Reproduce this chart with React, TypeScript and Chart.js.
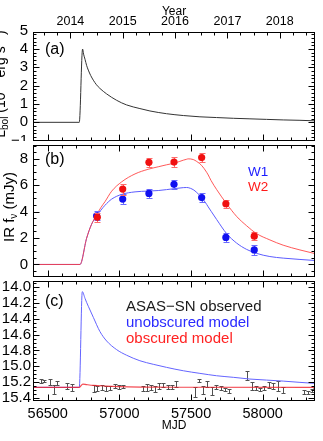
import React, { useEffect, useRef } from "react";
import { Chart, registerables } from "chart.js";

Chart.register(...registerables);

const FAMILY = '"Liberation Sans", Arial, Helvetica, sans-serif';

// ---------- shared axis ----------
const X_MIN = 56397;
const X_MAX = 58365;
const mjdTicks = [56500, 57000, 57500, 58000];
const yearTicks = [2014, 2015, 2016, 2017, 2018];
const yearMJD = [56658, 57023, 57388, 57754, 58119];

// ---------- panel (a): bolometric luminosity ----------
const aTicks = [-1, 0, 1, 2, 3, 4, 5];
const aMJD = [56397, 56720, 56743, 56750, 56760, 56771, 56783, 56800, 56818, 56840, 56864, 56911, 56981, 57050, 57143, 57213, 57329, 57446, 57562, 57678, 57795, 57911, 58027, 58143, 58260, 58365];
const aLbol = [0, 0, 4.0, 3.72, 3.44, 3.11, 2.85, 2.55, 2.3, 2.05, 1.85, 1.55, 1.2, 0.95, 0.75, 0.62, 0.47, 0.37, 0.3, 0.26, 0.22, 0.19, 0.16, 0.13, 0.11, 0.08];

// ---------- panel (b): IR flux ----------
const bTicks = [0, 2, 4, 6, 8];
const bMJD = [56397, 56725, 56771, 56806, 56841, 56870, 56899, 56946, 57016, 57109, 57200, 57271, 57329, 57388, 57446, 57469, 57480, 57515, 57540, 57574, 57609, 57620, 57640, 57679, 57748, 57818, 57888, 57957, 58050, 58143, 58260, 58365];
const w1Model = [0, 0, 1.98, 3.05, 3.69, 4.1, 4.48, 4.95, 5.31, 5.5, 5.56, 5.6, 5.67, 5.75, 5.82, 5.83, 5.82, 5.67, 5.45, 5.07, 4.55, 4.36, 4.03, 3.4, 2.34, 1.62, 1.14, 0.84, 0.6, 0.48, 0.38, 0.3];
const w2Model = [0, 0, 1.98, 3.05, 3.75, 4.3, 4.75, 5.55, 6.26, 6.86, 7.21, 7.4, 7.55, 7.69, 7.9, 7.97, 8.0, 7.95, 7.8, 7.5, 6.98, 6.78, 6.35, 5.67, 4.6, 3.64, 2.93, 2.34, 1.86, 1.46, 1.1, 0.82];
const w1MJD = [56841, 57023, 57206, 57381, 57574, 57743, 57941];
const w1Flux = [3.69, 4.95, 5.38, 6.07, 5.07, 2.05, 1.1];
const w1Err = [0.35, 0.4, 0.35, 0.35, 0.35, 0.35, 0.35];
const w2MJD = [56846, 57023, 57206, 57381, 57574, 57743, 57941];
const w2Flux = [3.57, 5.71, 7.74, 7.76, 8.1, 4.6, 2.14];
const w2Err = [0.35, 0.42, 0.35, 0.35, 0.35, 0.3, 0.3];

// ---------- panel (c): optical magnitudes ----------
const cTicks = [14.0, 14.2, 14.4, 14.6, 14.8, 15.0, 15.2, 15.4];
const asasMJD = [56450, 56474, 56516, 56546, 56567, 56632, 56667, 56825, 56846, 56881, 56906, 56934, 56969, 56999, 57027, 57162, 57190, 57218, 57248, 57278, 57306, 57337, 57364, 57395, 57527, 57553, 57585, 57613, 57646, 57674, 57706, 57739, 57767, 57892, 57922, 57953, 57981, 58011, 58046, 58074, 58104, 58139, 58288, 58318, 58341, 58364];
const asasMag = [15.183, 15.183, 15.2, 15.293, 15.209, 15.251, 15.268, 15.281, 15.281, 15.268, 15.281, 15.281, 15.251, 15.268, 15.259, 15.281, 15.268, 15.268, 15.29, 15.251, 15.239, 15.268, 15.268, 15.226, 15.323, 15.183, 15.3, 15.226, 15.309, 15.259, 15.281, 15.294, 15.309, 15.119, 15.251, 15.281, 15.294, 15.281, 15.239, 15.251, 15.251, 15.3, 15.323, 15.332, 15.309, 15.29];
const asasErr = [0.025, 0.01, 0.038, 0.059, 0.025, 0.034, 0.042, 0.042, 0.034, 0.03, 0.034, 0.025, 0.025, 0.025, 0.017, 0.034, 0.042, 0.034, 0.042, 0.034, 0.025, 0.025, 0.025, 0.034, 0.063, 0.017, 0.05, 0.042, 0.05, 0.025, 0.025, 0.025, 0.025, 0.059, 0.05, 0.025, 0.025, 0.025, 0.034, 0.042, 0.059, 0.042, 0.025, 0.017, 0.017, 0.017];
const unobsMJD = [56397, 56720, 56741, 56760, 56771, 56783, 56818, 56864, 56911, 56981, 57050, 57143, 57236, 57329, 57446, 57562, 57678, 57795, 57911, 58027, 58143, 58260, 58365];
const unobsMag = [15.267, 15.267, 14.055, 14.14, 14.19, 14.24, 14.38, 14.56, 14.68, 14.79, 14.86, 14.93, 14.975, 15.014, 15.057, 15.09, 15.12, 15.14, 15.162, 15.175, 15.188, 15.204, 15.217];
const obsMJD = [56397, 56720, 56745, 56770, 56818, 56900, 57000, 57150, 57400, 58365];
const obsMag = [15.267, 15.267, 15.226, 15.232, 15.242, 15.251, 15.258, 15.263, 15.266, 15.267];

type TextItem = { text: string; x: number; y: number; color: string; size: number };
type Seg = { t: string; size: number; dy: number };
type RichItem = { segs: Seg[]; x: number; y: number; color: string };

function pts(xs: number[], ys: number[]) {
  return xs.map((x, i) => ({ x, y: ys[i] }));
}

function drawRich(ctx: CanvasRenderingContext2D, item: RichItem) {
  ctx.save();
  ctx.translate(item.x, item.y);
  ctx.rotate(-Math.PI / 2);
  let total = 0;
  for (const s of item.segs) {
    ctx.font = `${s.size}px ${FAMILY}`;
    total += ctx.measureText(s.t).width;
  }
  let cx = -total / 2;
  ctx.fillStyle = item.color;
  ctx.textBaseline = "alphabetic";
  ctx.textAlign = "left";
  for (const s of item.segs) {
    ctx.font = `${s.size}px ${FAMILY}`;
    ctx.fillText(s.t, cx, s.dy);
    cx += ctx.measureText(s.t).width;
  }
  ctx.restore();
}

function decorPlugin(cfg: {
  yMajor: number[];
  yMinor: number;
  yFrom: number;
  yTo: number;
  yearTop: boolean;
  texts: TextItem[];
  rich: RichItem[];
}) {
  return {
    id: "decor",
    beforeDatasetDraw(chart: any, args: any) {
      const ds: any = chart.data.datasets[args.index];
      if (!ds.errorBars) return;
      const xs = chart.scales.x;
      const ys = chart.scales.y;
      const ctx: CanvasRenderingContext2D = chart.ctx;
      const ca = chart.chartArea;
      ctx.save();
      ctx.beginPath();
      ctx.rect(ca.left, ca.top, ca.right - ca.left, ca.bottom - ca.top);
      ctx.clip();
      ctx.strokeStyle = ds.errColor;
      ctx.lineWidth = 1;
      const w = ds.capWidth / 2;
      ds.data.forEach((p: any, i: number) => {
        const e = ds.errorBars[i];
        const px = Math.round(xs.getPixelForValue(p.x)) + 0.5;
        const y1 = Math.round(ys.getPixelForValue(p.y - e)) + 0.5;
        const y2 = Math.round(ys.getPixelForValue(p.y + e)) + 0.5;
        ctx.beginPath();
        ctx.moveTo(px, y1);
        ctx.lineTo(px, y2);
        ctx.moveTo(px - w, y1);
        ctx.lineTo(px + w, y1);
        ctx.moveTo(px - w, y2);
        ctx.lineTo(px + w, y2);
        ctx.stroke();
      });
      ctx.restore();
    },
    afterDraw(chart: any) {
      const ctx: CanvasRenderingContext2D = chart.ctx;
      const ca = chart.chartArea;
      const xs = chart.scales.x;
      const ys = chart.scales.y;
      const L = Math.round(ca.left) + 0.5;
      const R = Math.round(ca.right) - 0.5;
      const T = Math.round(ca.top) + 0.5;
      const B = Math.round(ca.bottom) - 0.5;
      ctx.save();
      ctx.strokeStyle = "#000";
      ctx.lineWidth = 1;
      ctx.strokeRect(L, T, R - L, B - T);
      ctx.beginPath();
      const vt = (v: number, len: number, atTop: boolean) => {
        const px = Math.round(xs.getPixelForValue(v)) + 0.5;
        if (px <= L || px >= R) return;
        if (atTop) {
          ctx.moveTo(px, T);
          ctx.lineTo(px, T + len);
        } else {
          ctx.moveTo(px, B);
          ctx.lineTo(px, B - len);
        }
      };
      for (let v = 56400; v <= X_MAX; v += 100) {
        const major = mjdTicks.includes(v);
        vt(v, major ? 6 : 3, false);
        if (!cfg.yearTop) vt(v, major ? 6 : 3, true);
      }
      if (cfg.yearTop) {
        const yr = 365.25;
        for (let k = -1; k < yearMJD.length; k++) {
          const base = yearMJD[0] + k * yr;
          if (k >= 0) vt(yearMJD[k], 6, true);
          for (let q = 1; q < 4; q++) vt(base + (q * yr) / 4, 3, true);
        }
      }
      const ht = (v: number, len: number) => {
        const py = Math.round(ys.getPixelForValue(v)) + 0.5;
        if (py <= T || py >= B) return;
        ctx.moveTo(L, py);
        ctx.lineTo(L + len, py);
        ctx.moveTo(R, py);
        ctx.lineTo(R - len, py);
      };
      const n = Math.round((cfg.yTo - cfg.yFrom) / cfg.yMinor);
      for (let i = 0; i <= n; i++) ht(cfg.yFrom + i * cfg.yMinor, 3);
      cfg.yMajor.forEach((v) => ht(v, 6));
      ctx.stroke();
      ctx.textBaseline = "middle";
      ctx.textAlign = "left";
      for (const t of cfg.texts) {
        ctx.font = `${t.size}px ${FAMILY}`;
        ctx.fillStyle = t.color;
        ctx.fillText(t.text, t.x, t.y);
      }
      for (const r of cfg.rich) drawRich(ctx, r);
      ctx.restore();
    },
  };
}

function hiddenX() {
  return { type: "linear", display: false, min: X_MIN, max: X_MAX };
}

function yScale(min: number, max: number, ticks: number[], fmt: (v: number) => string, padding: number, reverse = false) {
  return {
    type: "linear",
    position: "left",
    min,
    max,
    reverse,
    afterBuildTicks: (s: any) => {
      s.ticks = ticks.map((v) => ({ value: v }));
    },
    afterFit: (s: any) => {
      s.width = 33;
      s.paddingTop = 0;
      s.paddingBottom = 0;
    },
    grid: { display: false, drawTicks: false, tickLength: 0 },
    border: { display: false },
    ticks: {
      autoSkip: false,
      padding,
      color: "#000",
      font: { size: 15, family: FAMILY },
      callback: (v: any) => fmt(Number(v)),
    },
  };
}

const baseOptions = {
  responsive: false,
  animation: false,
  events: [],
  layout: { padding: { left: 0, right: 8, top: 0, bottom: 0 } },
  plugins: { legend: { display: false }, tooltip: { enabled: false } },
};

const minusFmt = (v: number) => (v < 0 ? "\u2212" + Math.abs(v) : String(v));

function lineDs(xs: number[], ys: number[], color: string, order: number, width = 1) {
  return {
    data: pts(xs, ys),
    showLine: true,
    borderColor: color,
    borderWidth: width,
    pointRadius: 0,
    tension: 0,
    cubicInterpolationMode: "monotone",
    xAxisID: "x",
    yAxisID: "y",
    order,
  };
}

function configA(): any {
  return {
    type: "scatter",
    data: {
      datasets: [lineDs(aMJD, aLbol, "#333333", 0, 1)],
    },
    options: {
      ...baseOptions,
      scales: {
        x: hiddenX(),
        xTop: {
          type: "linear",
          position: "top",
          min: X_MIN,
          max: X_MAX,
          afterBuildTicks: (s: any) => {
            s.ticks = yearMJD.map((v) => ({ value: v }));
          },
          afterFit: (s: any) => {
            s.height = 32;
            s.paddingLeft = 0;
            s.paddingRight = 0;
          },
          grid: { display: false, drawTicks: false, tickLength: 0 },
          border: { display: false },
          ticks: {
            autoSkip: false,
            maxRotation: 0,
            minRotation: 0,
            padding: 3,
            color: "#000",
            font: { size: 12.5, family: FAMILY },
            callback: (_v: any, i: number) => String(yearTicks[i]),
          },
          title: {
            display: true,
            text: "Year",
            color: "#000",
            font: { size: 12, family: FAMILY },
            padding: { top: 4, bottom: 0 },
          },
        },
        y: yScale(-1.02, 4.93, aTicks, minusFmt, 5),
      },
    },
    plugins: [
      decorPlugin({
        yMajor: aTicks,
        yMinor: 0.2,
        yFrom: -1,
        yTo: 5,
        yearTop: true,
        texts: [{ text: "(a)", x: 45, y: 50, color: "#000", size: 16 }],
        rich: [
          {
            x: 5,
            y: 84,
            color: "#000",
            segs: [
              { t: "L", size: 14, dy: 0 },
              { t: "bol", size: 10, dy: 3 },
              { t: " (10", size: 14, dy: 0 },
              { t: "44", size: 10, dy: -6 },
              { t: " erg s", size: 14, dy: 0 },
              { t: "\u22121", size: 10, dy: -6 },
              { t: ")", size: 14, dy: 0 },
            ],
          },
        ],
      }),
    ],
  };
}

function configB(): any {
  return {
    type: "scatter",
    data: {
      datasets: [
        {
          data: pts(w2MJD, w2Flux),
          pointRadius: 3.6,
          pointBackgroundColor: "#f01010",
          pointBorderWidth: 0,
          showLine: false,
          errorBars: w2Err,
          errColor: "#ff6a6a",
          capWidth: 6,
          xAxisID: "x",
          yAxisID: "y",
          order: 0,
        },
        {
          data: pts(w1MJD, w1Flux),
          pointRadius: 3.6,
          pointBackgroundColor: "#1010f0",
          pointBorderWidth: 0,
          showLine: false,
          errorBars: w1Err,
          errColor: "#6a6aff",
          capWidth: 6,
          xAxisID: "x",
          yAxisID: "y",
          order: 1,
        },
        lineDs(bMJD, w2Model, "rgba(255,60,60,0.85)", 2),
        lineDs(bMJD, w1Model, "#5c5cff", 3),
      ],
    },
    options: {
      ...baseOptions,
      scales: {
        x: hiddenX(),
        y: yScale(-0.95, 9.05, bTicks, minusFmt, 5),
      },
    },
    plugins: [
      decorPlugin({
        yMajor: bTicks,
        yMinor: 0.5,
        yFrom: -0.5,
        yTo: 9,
        yearTop: false,
        texts: [
          { text: "(b)", x: 45, y: 18.5, color: "#000", size: 16 },
          { text: "W1", x: 248, y: 31, color: "#1a1aff", size: 13.5 },
          { text: "W2", x: 248, y: 46, color: "#ff1a1a", size: 13.5 },
        ],
        rich: [
          {
            x: 14,
            y: 66,
            color: "#000",
            segs: [
              { t: "IR f", size: 15, dy: 0 },
              { t: "\u03bd", size: 10, dy: 3 },
              { t: " (mJy)", size: 15, dy: 0 },
            ],
          },
        ],
      }),
    ],
  };
}

function configC(): any {
  return {
    type: "scatter",
    data: {
      datasets: [
        lineDs(obsMJD, obsMag, "rgba(240,30,40,0.8)", 0, 1.2),
        lineDs(unobsMJD, unobsMag, "#6464ff", 1),
        {
          data: pts(asasMJD, asasMag),
          pointRadius: 0,
          showLine: false,
          errorBars: asasErr,
          errColor: "#505050",
          capWidth: 4,
          xAxisID: "x",
          yAxisID: "y",
          order: 2,
        },
      ],
    },
    options: {
      ...baseOptions,
      scales: {
        x: {
          type: "linear",
          position: "bottom",
          min: X_MIN,
          max: X_MAX,
          afterBuildTicks: (s: any) => {
            s.ticks = mjdTicks.map((v) => ({ value: v }));
          },
          afterFit: (s: any) => {
            s.height = 40;
            s.paddingLeft = 0;
            s.paddingRight = 0;
          },
          grid: { display: false, drawTicks: false, tickLength: 0 },
          border: { display: false },
          ticks: {
            autoSkip: false,
            maxRotation: 0,
            minRotation: 0,
            padding: 4,
            color: "#000",
            font: { size: 14.5, family: FAMILY },
            callback: (v: any) => String(v),
          },
          title: {
            display: true,
            text: "MJD",
            color: "#000",
            font: { size: 12, family: FAMILY },
            padding: { top: 0, bottom: 8 },
          },
        },
        y: yScale(13.92, 15.44, cTicks, (v) => v.toFixed(1), 2, true),
      },
    },
    plugins: [
      decorPlugin({
        yMajor: cTicks,
        yMinor: 0.05,
        yFrom: 13.95,
        yTo: 15.4,
        yearTop: false,
        texts: [
          { text: "(c)", x: 45, y: 20.5, color: "#000", size: 16 },
          { text: "ASAS\u2212SN observed", x: 126, y: 25.5, color: "#1a1a1a", size: 15 },
          { text: "unobscured model", x: 126, y: 41.5, color: "#2b2bff", size: 15 },
          { text: "obscured model", x: 126, y: 57.5, color: "#ff2222", size: 15 },
        ],
        rich: [],
      }),
    ],
  };
}

export default function App() {
  const refA = useRef<HTMLCanvasElement>(null);
  const refB = useRef<HTMLCanvasElement>(null);
  const refC = useRef<HTMLCanvasElement>(null);

  useEffect(() => {
    Chart.defaults.font.family = FAMILY;
    Chart.defaults.color = "#000";
    const charts = [
      new Chart(refA.current as HTMLCanvasElement, configA()),
      new Chart(refB.current as HTMLCanvasElement, configB()),
      new Chart(refC.current as HTMLCanvasElement, configC()),
    ];
    return () => charts.forEach((c) => c.destroy());
  }, []);

  return (
    <div style={{ position: "fixed", left: 0, top: 0, width: 323, height: 441, background: "#fff", overflow: "hidden" }}>
      <canvas ref={refA} width={323} height={141} style={{ position: "absolute", left: 0, top: 0 }} />
      <canvas ref={refB} width={323} height={140} style={{ position: "absolute", left: 0, top: 141 }} />
      <canvas ref={refC} width={323} height={160} style={{ position: "absolute", left: 0, top: 281 }} />
    </div>
  );
}
